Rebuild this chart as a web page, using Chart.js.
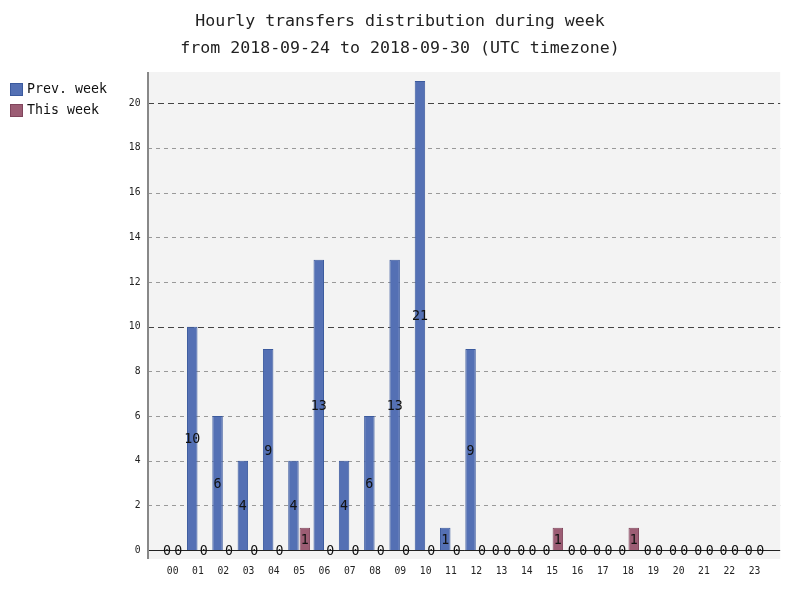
<!DOCTYPE html>
<html>
<head>
<meta charset="utf-8">
<script src="https://cdn.jsdelivr.net/npm/chart.js@4"></script>
<style>
  html, body { margin: 0; padding: 0; background: #fff; }
  #wrap { width: 800px; height: 600px; }
</style>
</head>
<body>
<div id="wrap"><canvas id="myChart"></canvas></div>
<script>
const hours = ["00","01","02","03","04","05","06","07","08","09","10","11",
               "12","13","14","15","16","17","18","19","20","21","22","23"];
const prevWeek = [0,10,6,4,9,4,13,4,6,13,21,1,9,0,0,0,0,0,0,0,0,0,0,0];
const thisWeek = [0,0,0,0,0,1,0,0,0,0,0,0,0,0,0,1,0,0,1,0,0,0,0,0];
const yTicks = [0,2,4,6,8,10,12,14,16,18,20];
const majorTicks = [10,20];
const titleLines = ["Hourly transfers distribution during week",
                    "from 2018-09-24 to 2018-09-30 (UTC timezone)"];

const MONO = "'DejaVu Sans Mono', 'Liberation Mono', monospace";

// plot background, guides, axis lines, legend and value labels
const pygalLook = {
  id: "pygalLook",
  beforeDraw: (chart) => {
    const c = chart.ctx, a = chart.chartArea;
    c.save();
    c.fillStyle = "#fff";
    c.fillRect(0, 0, chart.width, chart.height);
    c.fillStyle = "#f3f3f3";
    c.fillRect(a.left - 12, a.top, a.right - a.left + 25, a.bottom - a.top);
    c.restore();
  },
  beforeDatasetsDraw: (chart) => {
    const c = chart.ctx, a = chart.chartArea, y = chart.scales.y;
    c.save();
    yTicks.forEach((v) => {
      if (v === 0) return;
      const py = Math.round(y.getPixelForValue(v)) + 0.5;
      const major = majorTicks.includes(v);
      c.strokeStyle = major ? "#444" : "#999";
      c.lineWidth = 1;
      c.setLineDash(major ? [6, 4] : [4, 4]);
      c.beginPath();
      c.moveTo(a.left - 12, py);
      c.lineTo(a.right + 13, py);
      c.stroke();
    });
    c.restore();
  },
  afterDatasetsDraw: (chart) => {
    const c = chart.ctx, a = chart.chartArea, y = chart.scales.y;
    c.save();
    // x axis line at zero
    const y0 = Math.round(y.getPixelForValue(0)) + 0.5;
    c.strokeStyle = "#222";
    c.lineWidth = 1;
    c.beginPath();
    c.moveTo(a.left - 12, y0);
    c.lineTo(a.right + 13, y0);
    c.stroke();
    // left axis line
    c.strokeStyle = "#888";
    c.lineWidth = 2;
    c.beginPath();
    c.moveTo(a.left - 12, a.top);
    c.lineTo(a.left - 12, a.bottom);
    c.stroke();

    // value labels
    c.font = "13.3px " + MONO;
    c.fillStyle = "#111";
    c.textAlign = "center";
    c.textBaseline = "middle";
    chart.data.datasets.forEach((ds, i) => {
      const meta = chart.getDatasetMeta(i);
      meta.data.forEach((bar, j) => {
        const mid = (bar.y + bar.base) / 2 + 1.5;
        c.fillText(String(ds.data[j]), bar.x, mid);
      });
    });

    // legend
    c.textAlign = "left";
    chart.data.datasets.forEach((ds, i) => {
      const top = 83 + i * 21;
      c.fillStyle = ds.backgroundColor;
      c.strokeStyle = ds.borderColor;
      c.lineWidth = 1;
      c.fillRect(10.5, top + 0.5, 12, 12);
      c.strokeRect(10.5, top + 0.5, 12, 12);
      c.fillStyle = "#111";
      c.fillText(ds.label, 27, top + 7);
    });
    c.restore();
  }
};

const ctx = document.getElementById("myChart");
const myChart = new Chart(ctx, {
  type: "bar",
  plugins: [pygalLook],
  data: {
    labels: hours,
    datasets: [
      {
        label: "Prev. week",
        data: prevWeek,
        backgroundColor: "#5470b4",
        borderColor: "#3b5a9e",
        borderWidth: 1,
      },
      {
        label: "This week",
        data: thisWeek,
        backgroundColor: "#9c5d74",
        borderColor: "#80455c",
        borderWidth: 1,
      },
    ],
  },
  options: {
    responsive: true,
    maintainAspectRatio: false,
    animation: false,
    layout: { padding: 0 },
    datasets: { bar: { categoryPercentage: 0.9, barPercentage: 0.92 } },
    plugins: {
      legend: { display: false },
      tooltip: { enabled: false },
      title: {
        display: true,
        text: titleLines,
        color: "#222",
        font: { family: MONO, size: 16.6, weight: "normal", lineHeight: 1.627 },
        padding: { top: 8.5, bottom: 9.5 },
      },
    },
    scales: {
      x: {
        offset: true,
        grid: { display: false, drawTicks: false },
        border: { display: false },
        ticks: {
          color: "#222",
          font: { family: MONO, size: 9.7 },
          padding: 6.3,
          autoSkip: false,
          maxRotation: 0,
        },
        afterFit: (scale) => { scale.height = 41; },
      },
      y: {
        min: -0.4,
        max: 21.4,
        grid: { display: false, drawTicks: false },
        border: { display: false },
        ticks: {
          color: "#222",
          font: { family: MONO, size: 9.7 },
          padding: 19.5,
        },
        afterBuildTicks: (scale) => {
          scale.ticks = yTicks.map((v) => ({ value: v }));
        },
        afterFit: (scale) => { scale.width = 160; },
      },
      // empty right-hand spacer so the title stays centred on the page
      spacer: {
        type: "linear",
        position: "right",
        grid: { display: false, drawTicks: false },
        border: { display: false },
        ticks: { display: false },
        afterFit: (scale) => { scale.width = 32.8; },
      },
    },
  },
});
</script>
</body>
</html>
